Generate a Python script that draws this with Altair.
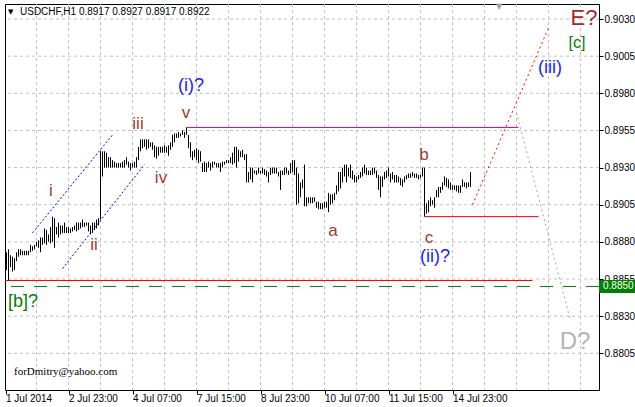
import altair as alt
import pandas as pd

PIP = 0.0001

# ---- USDCHF H1 bars (high / low in pips, oldest first) ----
high_pts = [
    8873, 8875, 8871, 8870, 8869, 8873, 8875, 8875, 8874, 8874,
    8874, 8874, 8878, 8877, 8878, 8880, 8881, 8883, 8883, 8889,
    8888, 8885, 8890, 8897, 8896, 8890, 8893, 8891, 8891, 8893,
    8890, 8890, 8889, 8890, 8891, 8893, 8893, 8893, 8895, 8893,
    8893, 8893, 8891, 8893, 8893, 8895, 8896, 8941, 8941, 8941,
    8940, 8937, 8937, 8935, 8934, 8933, 8933, 8933, 8934, 8935,
    8937, 8934, 8933, 8933, 8934, 8937, 8944, 8949, 8949, 8949,
    8949, 8949, 8947, 8947, 8945, 8944, 8944, 8944, 8944, 8945,
    8944, 8945, 8947, 8952, 8953, 8953, 8954, 8953, 8955, 8954,
    8957, 8952, 8947, 8941, 8942, 8943, 8942, 8941, 8933, 8934,
    8933, 8934, 8933, 8934, 8934, 8933, 8933, 8933, 8934, 8934,
    8935, 8935, 8937, 8940, 8944, 8944, 8942, 8941, 8942, 8939,
    8939, 8927, 8930, 8930, 8928, 8928, 8930, 8928, 8930, 8929,
    8928, 8927, 8930, 8930, 8930, 8930, 8927, 8928, 8928, 8930,
    8930, 8928, 8933, 8935, 8935, 8930, 8926, 8920, 8922, 8932,
    8910, 8910, 8910, 8910, 8910, 8907, 8907, 8906, 8906, 8907,
    8907, 8913, 8912, 8912, 8913, 8918, 8927, 8927, 8930, 8932,
    8932, 8930, 8932, 8928, 8925, 8924, 8925, 8927, 8930, 8932,
    8930, 8928, 8928, 8930, 8930, 8928, 8925, 8924, 8924, 8927,
    8928, 8930, 8926, 8927, 8925, 8925, 8924, 8923, 8922, 8924,
    8925, 8926, 8926, 8927, 8926, 8926, 8925, 8925, 8930, 8930,
    8906, 8908, 8910, 8908, 8910, 8915, 8917, 8917, 8920, 8924,
    8923, 8922, 8920, 8918, 8918, 8918, 8918, 8918, 8922, 8920,
    8920, 8920, 8927,
]
low_pts = [
    8861, 8854, 8863, 8860, 8861, 8867, 8870, 8871, 8871, 8871,
    8871, 8871, 8873, 8874, 8875, 8877, 8876, 8873, 8878, 8879,
    8878, 8880, 8879, 8880, 8876, 8885, 8883, 8885, 8886, 8886,
    8886, 8886, 8886, 8887, 8888, 8887, 8888, 8889, 8890, 8890,
    8891, 8887, 8885, 8886, 8888, 8889, 8891, 8895, 8924, 8930,
    8930, 8930, 8930, 8930, 8930, 8930, 8930, 8930, 8930, 8930,
    8932, 8930, 8928, 8930, 8930, 8930, 8935, 8941, 8943, 8944,
    8942, 8943, 8944, 8942, 8937, 8936, 8938, 8940, 8940, 8940,
    8940, 8938, 8942, 8944, 8947, 8950, 8950, 8951, 8952, 8950,
    8952, 8943, 8937, 8935, 8937, 8935, 8933, 8934, 8927, 8927,
    8927, 8930, 8928, 8930, 8932, 8930, 8930, 8927, 8930, 8932,
    8933, 8933, 8933, 8932, 8933, 8930, 8934, 8937, 8937, 8935,
    8920, 8920, 8922, 8920, 8926, 8925, 8926, 8926, 8926, 8925,
    8924, 8920, 8925, 8926, 8926, 8926, 8924, 8915, 8925, 8925,
    8926, 8925, 8926, 8927, 8925, 8905, 8906, 8910, 8916, 8904,
    8904, 8906, 8906, 8906, 8907, 8903, 8902, 8902, 8902, 8903,
    8903, 8900, 8905, 8906, 8908, 8912, 8914, 8916, 8920, 8924,
    8920, 8924, 8923, 8922, 8920, 8920, 8922, 8923, 8924, 8926,
    8925, 8925, 8925, 8925, 8926, 8923, 8915, 8910, 8917, 8922,
    8923, 8924, 8920, 8922, 8920, 8920, 8920, 8918, 8917, 8920,
    8922, 8923, 8923, 8924, 8923, 8923, 8922, 8923, 8924, 8897,
    8899, 8900, 8904, 8905, 8903, 8910, 8910, 8913, 8915, 8918,
    8917, 8916, 8915, 8915, 8915, 8914, 8913, 8913, 8917, 8917,
    8916, 8917, 8917,
]

# ---- axes ----
price_ticks = [0.8805, 0.8830, 0.8855, 0.8880, 0.8905, 0.8930,
               0.8955, 0.8980, 0.9005, 0.9030]
time_ticks = [-0.5, 31, 63, 95, 127, 159, 191, 223]
time_labels = ["1 Jul 2014", "2 Jul 23:00", "4 Jul 07:00", "7 Jul 15:00",
               "8 Jul 23:00", "10 Jul 07:00", "11 Jul 15:00", "14 Jul 23:00"]
grid_bars = list(range(15, 296, 16))

# ---- levels ----
top_level = 0.8957      # v high
c_level = 0.8897        # c low
base_level = 0.8854     # start low
mark_level = 0.8850     # dashed level
top_span = [90, 256]
c_span = [209, 266]
base_span = [-0.75, 263]

# ---- trend lines (bar, price) ----
channel_a = {"bar": [13, 53], "price": [0.8886, 0.8952]}
channel_b = {"bar": [28, 69], "price": [0.8862, 0.8932]}
up_path = {"bar": [233, 271], "price": [0.8905, 0.9024]}
down_path = {"bar": [255, 282], "price": [0.8967, 0.8827]}

# ---- wave labels ----
wave_text = ["i", "ii", "iii", "iv", "v", "(i)?", "a", "b", "c", "(ii)?",
             "(iii)", "E?", "[c]", "[b]?", "D?"]
wave_bar = [22.25, 43.75, 65.75, 77.25, 89.75, 92.25, 163.25, 208.75,
            211.25, 214.25, 271.75, 288.75, 285.25, 8.25, 284.25]
wave_price = [0.89142, 0.88779, 0.89593, 0.8923, 0.89667, 0.89849, 0.88873,
              0.89385, 0.88826, 0.88698, 0.8997, 0.90307, 0.90138, 0.88395,
              0.88126]
wave_color = ["#9c3a30"] * 5 + ["#1a1aff"] + ["#9c3a30"] * 3 + ["#1a1aff"] * 2 + \
             ["#a52a2a", "#008000", "#008000", "#b4b4b4"]
wave_size = [17, 17, 17, 17, 17, 18, 17, 17, 17, 18, 18, 22, 16, 18, 24]

FONT = "Liberation Sans"
FS = 10
W, H = 594, 386

bars = pd.DataFrame({
    "bar": list(range(len(high_pts))),
    "high": [p * PIP for p in high_pts],
    "low": [p * PIP for p in low_pts],
})

xs = alt.Scale(domain=[-0.75, 296.25], nice=False, zero=False)
ys = alt.Scale(domain=[0.87803, 0.90401], nice=False, zero=False)

label_expr = " : ".join(
    f"datum.value == {v} ? '{t}'" for v, t in zip(time_ticks, time_labels)
) + " : ''"

x_axis = alt.Axis(values=time_ticks, labelExpr=label_expr, grid=False,
                  domain=False, tickSize=4, tickColor="black",
                  labelAlign="left", labelPadding=-1, labelFont=FONT,
                  labelFontSize=FS, labelColor="black", labelOverlap=False,
                  labelFlush=False, title=None)
y_axis = alt.Axis(orient="right", values=price_ticks, format=".4f",
                  grid=False, domain=False, tickSize=4, tickColor="black",
                  labelPadding=1, labelFont=FONT, labelFontSize=FS,
                  labelColor="black", labelOverlap=False, labelFlush=False,
                  title=None)

grid_v = alt.Chart(pd.DataFrame({"bar": grid_bars})).mark_rule(
    color="#c0c0c0", strokeDash=[3, 3], strokeWidth=1
).encode(x=alt.X("bar:Q", scale=xs, axis=x_axis),
         y=alt.value(0), y2=alt.value(H))

grid_h = alt.Chart(pd.DataFrame({"price": price_ticks})).mark_rule(
    color="#c0c0c0", strokeDash=[3, 3], strokeWidth=1
).encode(y=alt.Y("price:Q", scale=ys, axis=y_axis))

hl = alt.Chart(bars).mark_rule(color="black", strokeWidth=1).encode(
    x=alt.X("bar:Q", scale=xs, axis=x_axis),
    y=alt.Y("low:Q", scale=ys, axis=y_axis),
    y2="high:Q",
)


def level_rule(level, span, color, dash=None):
    df = pd.DataFrame({"x0": [span[0]], "x1": [span[1]], "p": [level]})
    kw = {"color": color, "strokeWidth": 1}
    if dash:
        kw["strokeDash"] = dash
    return alt.Chart(df).mark_rule(**kw).encode(
        x=alt.X("x0:Q", scale=xs, axis=x_axis), x2="x1:Q",
        y=alt.Y("p:Q", scale=ys, axis=y_axis))


def path(line, color, dash):
    df = pd.DataFrame(line)
    return alt.Chart(df).mark_line(color=color, strokeWidth=1,
                                   strokeDash=dash).encode(
        x=alt.X("bar:Q", scale=xs, axis=x_axis),
        y=alt.Y("price:Q", scale=ys, axis=y_axis))


dashed = alt.Chart(pd.DataFrame({"p": [mark_level]})).mark_rule(
    color="#008000", strokeWidth=1, strokeDash=[13, 10]
).encode(y=alt.Y("p:Q", scale=ys, axis=y_axis))

price_box = alt.Chart(pd.DataFrame({"p": [mark_level]})).mark_rule(
    color="#008000", strokeWidth=13, strokeCap="butt"
).encode(x=alt.value(W), x2=alt.value(W + 41),
         y=alt.Y("p:Q", scale=ys, axis=y_axis))

price_box_text = alt.Chart(
    pd.DataFrame({"p": [mark_level], "t": [f"{mark_level:.4f}"]})
).mark_text(font=FONT, fontSize=FS, color="white", align="left",
            baseline="middle").encode(
    x=alt.value(W + 4), y=alt.Y("p:Q", scale=ys, axis=y_axis), text="t:N")

waves = pd.DataFrame({"t": wave_text, "bar": wave_bar, "p": wave_price,
                      "c": wave_color, "s": wave_size})
wave_layer = alt.Chart(waves).mark_text(
    font=FONT, align="center", baseline="middle"
).encode(
    x=alt.X("bar:Q", scale=xs, axis=x_axis),
    y=alt.Y("p:Q", scale=ys, axis=y_axis), text="t:N",
    color=alt.Color("c:N", scale=None), size=alt.Size("s:Q", scale=None),
)

head = alt.Chart(pd.DataFrame({"t": ["USDCHF,H1  0.8917 0.8927 0.8917 0.8922"]})).mark_text(
    font=FONT, fontSize=FS, color="black", align="left", baseline="middle"
).encode(x=alt.value(15), y=alt.value(8), text="t:N")

head_arrow = alt.Chart(pd.DataFrame({"t": ["▼"]})).mark_text(
    font="DejaVu Sans", fontSize=7, color="black", align="left",
    baseline="middle"
).encode(x=alt.value(3), y=alt.value(8), text="t:N")

shift_mark = alt.Chart(pd.DataFrame({"t": ["▼"]})).mark_text(
    font="DejaVu Sans", fontSize=8, color="#a0a0a0", align="center",
    baseline="middle"
).encode(x=alt.value(494), y=alt.value(3), text="t:N")

signature = alt.Chart(pd.DataFrame({"t": ["forDmitry@yahoo.com"]})).mark_text(
    font="Liberation Serif", fontSize=11, color="black", align="left",
    baseline="middle"
).encode(x=alt.value(9), y=alt.value(368), text="t:N")

chart = alt.layer(
    grid_h, grid_v,
    dashed,
    level_rule(base_level, base_span, "#ff0000"),
    level_rule(top_level, top_span, "#cc00cc"),
    level_rule(c_level, c_span, "#ff0000"),
    path(channel_a, "#0000ff", [2, 2]),
    path(channel_b, "#0000ff", [2, 2]),
    path(up_path, "#ff0000", [2, 3]),
    path(down_path, "#a8a8a8", [2, 3]),
    hl,
    wave_layer,
    price_box, price_box_text,
    head_arrow, head, shift_mark, signature,
).resolve_axis(x="shared", y="shared").properties(
    width=W, height=H,
    autosize=alt.AutoSizeParams(type="none"),
    padding={"left": 5, "top": 4, "right": 36, "bottom": 17},
    background="white",
).configure_view(stroke="black", strokeWidth=1)

chart.save("out.html", embed_options={"renderer": "svg", "actions": False})
